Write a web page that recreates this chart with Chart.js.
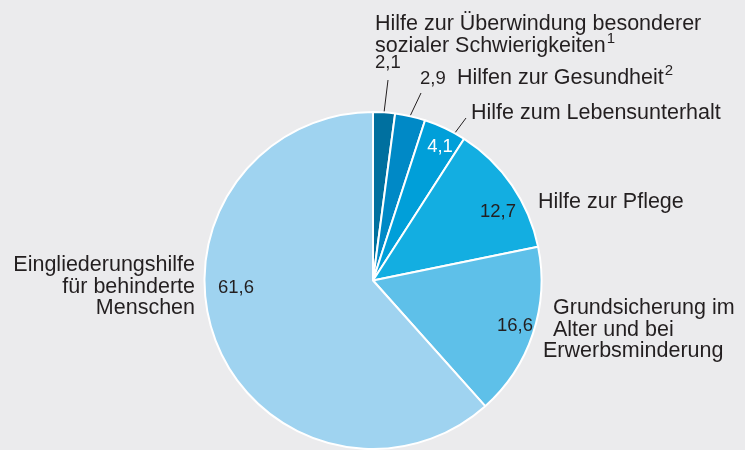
<!DOCTYPE html>
<html>
<head>
<meta charset="utf-8">
<script src="https://cdn.jsdelivr.net/npm/chart.js@4"></script>
<style>
  body { margin: 0; background: #ebebed; }
  #wrap { width: 745px; height: 450px; position: relative; }
</style>
</head>
<body>
<div id="wrap"><canvas id="myChart"></canvas></div>
<script>
const categories = [
    'Hilfe zur Überwindung besonderer sozialer Schwierigkeiten',
    'Hilfen zur Gesundheit',
    'Hilfe zum Lebensunterhalt',
    'Hilfe zur Pflege',
    'Grundsicherung im Alter und bei Erwerbsminderung',
    'Eingliederungshilfe für behinderte Menschen'
];
const shares = [2.1, 2.9, 4.1, 12.7, 16.6, 61.6];
const sliceColors = ['#00709f', '#0089c6', '#009fd9', '#13aee1', '#5ec0e9', '#9fd3f0'];

// where the text sits around the pie (x, y = baseline of first line)
const labelLayout = [
    { lines: ['Hilfe zur Überwindung besonderer', 'sozialer Schwierigkeiten'], sup: '1', x: 375, y: 30, align: 'left', value: [375, 68, 'left'], lead: [388, 80] },
    { lines: ['Hilfen zur Gesundheit'], sup: '2', x: 457, y: 84, align: 'left', value: [420, 84, 'left'], lead: [421, 93] },
    { lines: ['Hilfe zum Lebensunterhalt'], x: 471, y: 119, align: 'left', value: [440, 152, 'center'], lead: [466, 118], leadAt: 0.75, white: true },
    { lines: ['Hilfe zur Pflege'], x: 538, y: 208, align: 'left', value: [498, 217, 'center'] },
    { lines: ['Grundsicherung im', 'Alter und bei', 'Erwerbsminderung'], offs: [10, 10, 0], x: 543, y: 314, align: 'left', value: [515, 331, 'center'] },
    { lines: ['Eingliederungshilfe', 'für behinderte', 'Menschen'], x: 195, y: 271, align: 'right', value: [236, 293, 'center'] }
];

const FONT = '"Liberation Sans", Arial, sans-serif';
const textColor = '#231f20';

const labelPlugin = {
    id: 'pieLabels',
    afterDraw(chart) {
        const ctx = chart.ctx;
        const arcs = chart.getDatasetMeta(0).data;
        ctx.save();
        ctx.textBaseline = 'alphabetic';
        arcs.forEach((arc, i) => {
            const l = labelLayout[i];
            // category text
            ctx.fillStyle = textColor;
            ctx.font = '21.5px ' + FONT;
            ctx.textAlign = l.align;
            l.lines.forEach((t, k) => {
                const xo = l.offs ? l.offs[k] : 0;
                ctx.fillText(t, l.x + xo, l.y + k * 21.5);
            });
            if (l.sup) {
                const last = l.lines[l.lines.length - 1];
                const w = ctx.measureText(last).width;
                ctx.font = '15px ' + FONT;
                ctx.textAlign = 'left';
                ctx.fillText(l.sup, l.x + w + 1, l.y + (l.lines.length - 1) * 21.5 - 9);
            }
            // value text
            ctx.font = '18.5px ' + FONT;
            ctx.fillStyle = l.white ? '#ffffff' : textColor;
            ctx.textAlign = l.value[2];
            ctx.fillText(shares[i].toFixed(1).replace('.', ','), l.value[0], l.value[1]);
            // leader line from the arc edge
            if (l.lead) {
                const p = arc.getProps(['x', 'y', 'startAngle', 'endAngle', 'outerRadius'], true);
                const f = l.leadAt || 0.5;
                const a = p.startAngle + (p.endAngle - p.startAngle) * f;
                const sx = p.x + Math.cos(a) * (p.outerRadius + 1);
                const sy = p.y + Math.sin(a) * (p.outerRadius + 1);
                ctx.strokeStyle = textColor;
                ctx.lineWidth = 1;
                ctx.beginPath();
                ctx.moveTo(sx, sy);
                ctx.lineTo(l.lead[0], l.lead[1]);
                ctx.stroke();
            }
        });
        ctx.restore();
    }
};

new Chart(document.getElementById('myChart'), {
    type: 'pie',
    data: {
        labels: categories,
        datasets: [{
            data: shares,
            backgroundColor: sliceColors,
            borderColor: '#ffffff',
            borderWidth: 2,
            hoverOffset: 0
        }]
    },
    options: {
        responsive: true,
        maintainAspectRatio: false,
        animation: false,
        layout: { padding: { left: 202, right: 201, top: 111, bottom: -5 } },
        plugins: {
            legend: { display: false },
            tooltip: { enabled: false }
        }
    },
    plugins: [labelPlugin]
});
</script>
</body>
</html>
